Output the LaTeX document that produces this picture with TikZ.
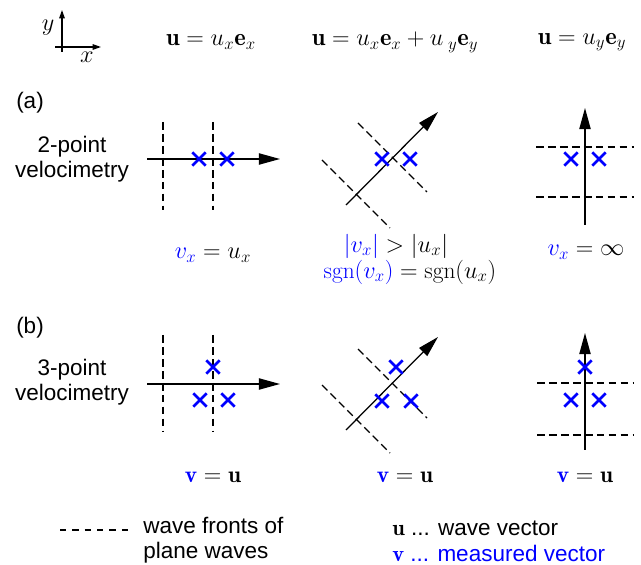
\documentclass[tikz,border=0pt]{standalone}
\usepackage{fontspec}
\setsansfont{Liberation Sans}
\usepackage{xcolor}
\usepackage{tikz}
\usetikzlibrary{arrows.meta,shapes.misc}
\definecolor{probeblue}{HTML}{0000FF}
\newcommand{\bigtxt}{\fontsize{16}{17.5}\selectfont}
\tikzset{
  txt/.style={font=\bigtxt\sffamily,inner sep=0pt},
  eqn/.style={font=\fontsize{16.6}{18}\selectfont,inner sep=0pt},
  topeqn/.style={font=\fontsize{17.4}{19}\selectfont,inner sep=0pt},
  wavevec/.style={-{Triangle[length=15pt,width=8pt]},line width=0.9pt},
  axarr/.style={-{Triangle[length=6pt,width=4pt]},line width=0.8pt},
  front/.style={dash pattern=on 5.5pt off 3pt,line width=0.8pt},
  keyfront/.style={dash pattern=on 4.5pt off 4.3pt,line width=0.8pt},
  probe/.style={cross out,draw=probeblue,line width=2pt,minimum size=7.5pt,inner sep=0pt},
}
\begin{document}
\begin{tikzpicture}[x=0.025cm,y=-0.025cm]
  \useasboundingbox (0,0) rectangle (641,565);
  % axes and wave vectors
  \coordinate (ax0) at (62,47);
  \coordinate (axl) at (55,47); \coordinate (axx) at (101,47);
  \coordinate (axb) at (62,52); \coordinate (axy) at (62,10);
  \draw[axarr] (axl) -- (axx);
  \draw[axarr] (axb) -- (axy);
  \node[topeqn] (ylab) at (48,28) {$y$};
  \node[topeqn] (xlab) at (87,57) {$x$};
  \node[topeqn] (u1) at (211,42) {$\mathbf{u}=u_x\mathbf{e}_x$};
  \node[topeqn] (u2) at (395,42) {$\mathbf{u}=u_x\mathbf{e}_x+u_{\;y}\mathbf{e}_y$};
  \node[topeqn] (u3) at (582,42) {$\mathbf{u}=u_y\mathbf{e}_y$};

  % (a) 2-point
  \node[txt] (tagA) at (30,103) {(a)};
  \node[txt,align=center] (rowA) at (72,159) {2-point\\velocimetry};
  \foreach \x in {163,213} {
    \coordinate (t) at (\x,122); \coordinate (b) at (\x,210);
    \draw[front] (t) -- (b);
  }
  \coordinate (a1s) at (147,159); \coordinate (a1e) at (280,159);
  \draw[wavevec] (a1s) -- (a1e);
  \foreach \x in {199,227} \node[probe] (pa1\x) at (\x,159) {};
  \coordinate (a2f1) at (322,160); \coordinate (a2f2) at (390,228);
  \coordinate (a2g1) at (358,123); \coordinate (a2g2) at (427,192);
  \draw[front] (a2f1) -- (a2f2);
  \draw[front] (a2g1) -- (a2g2);
  \coordinate (a2s) at (346,205); \coordinate (a2e) at (438,112);
  \draw[wavevec] (a2s) -- (a2e);
  \foreach \x in {382,410} \node[probe] (pa2\x) at (\x,159) {};
  \foreach \y in {147,197} {
    \coordinate (l) at (536,\y); \coordinate (r) at (634,\y);
    \draw[front] (l) -- (r);
  }
  \coordinate (a3s) at (585,225); \coordinate (a3e) at (585,108);
  \draw[wavevec] (a3s) -- (a3e);
  \foreach \x in {571,599} \node[probe] (pa3\x) at (\x,159) {};
  \node[eqn] (va1) at (213,255) {$\textcolor{probeblue}{v_x}=u_x$};
  \node[eqn] (va2) at (396,246) {$\textcolor{probeblue}{|v_x|}>|u_x|$};
  \node[eqn] (va2b) at (410,272) {$\textcolor{probeblue}{\mathrm{sgn}(v_x)}=\mathrm{sgn}(u_x)$};
  \node[eqn] (va3) at (586,252) {$\textcolor{probeblue}{v_x}=\infty$};

  % (b) 3-point
  \node[txt] (tagB) at (30,328) {(b)};
  \node[txt,align=center] (rowB) at (72,382) {3-point\\velocimetry};
  \foreach \x in {163,213} {
    \coordinate (t) at (\x,335); \coordinate (b) at (\x,432);
    \draw[front] (t) -- (b);
  }
  \coordinate (b1s) at (147,384); \coordinate (b1e) at (280,384);
  \draw[wavevec] (b1s) -- (b1e);
  \node[probe] (pb1t) at (213,367) {};
  \foreach \x in {200,228} \node[probe] (pb1\x) at (\x,400) {};
  \coordinate (b2f1) at (322,385); \coordinate (b2f2) at (390,453);
  \coordinate (b2g1) at (358,349); \coordinate (b2g2) at (427,418);
  \draw[front] (b2f1) -- (b2f2);
  \draw[front] (b2g1) -- (b2g2);
  \coordinate (b2s) at (346,430); \coordinate (b2e) at (438,337);
  \draw[wavevec] (b2s) -- (b2e);
  \node[probe] (pb2t) at (396,367) {};
  \foreach \x in {382,411} \node[probe] (pb2\x) at (\x,401) {};
  \foreach \y in {383,435} {
    \coordinate (l) at (537,\y); \coordinate (r) at (634,\y);
    \draw[front] (l) -- (r);
  }
  \coordinate (b3s) at (585,450); \coordinate (b3e) at (585,333);
  \draw[wavevec] (b3s) -- (b3e);
  \node[probe] (pb3t) at (585,367) {};
  \foreach \x in {571,599} \node[probe] (pb3\x) at (\x,400) {};
  \foreach \x/\n in {213/1,405/2,585/3}
    \node[eqn] (vb\n) at (\x,477) {$\textcolor{probeblue}{\mathbf{v}}=\mathbf{u}$};

  % legend
  \coordinate (lg1) at (60,530); \coordinate (lg2) at (130,530);
  \draw[keyfront] (lg1) -- (lg2);
  \node[txt,align=left,anchor=west] (lgfront) at (143,540) {wave fronts of\\plane waves};
  \node[txt,anchor=west] (lgu) at (392,528) {$\mathbf{u}$ ... wave vector};
  \node[txt,anchor=west,text=probeblue] (lgv) at (392,553) {$\mathbf{v}$ ... measured vector};
\end{tikzpicture}
\end{document}
